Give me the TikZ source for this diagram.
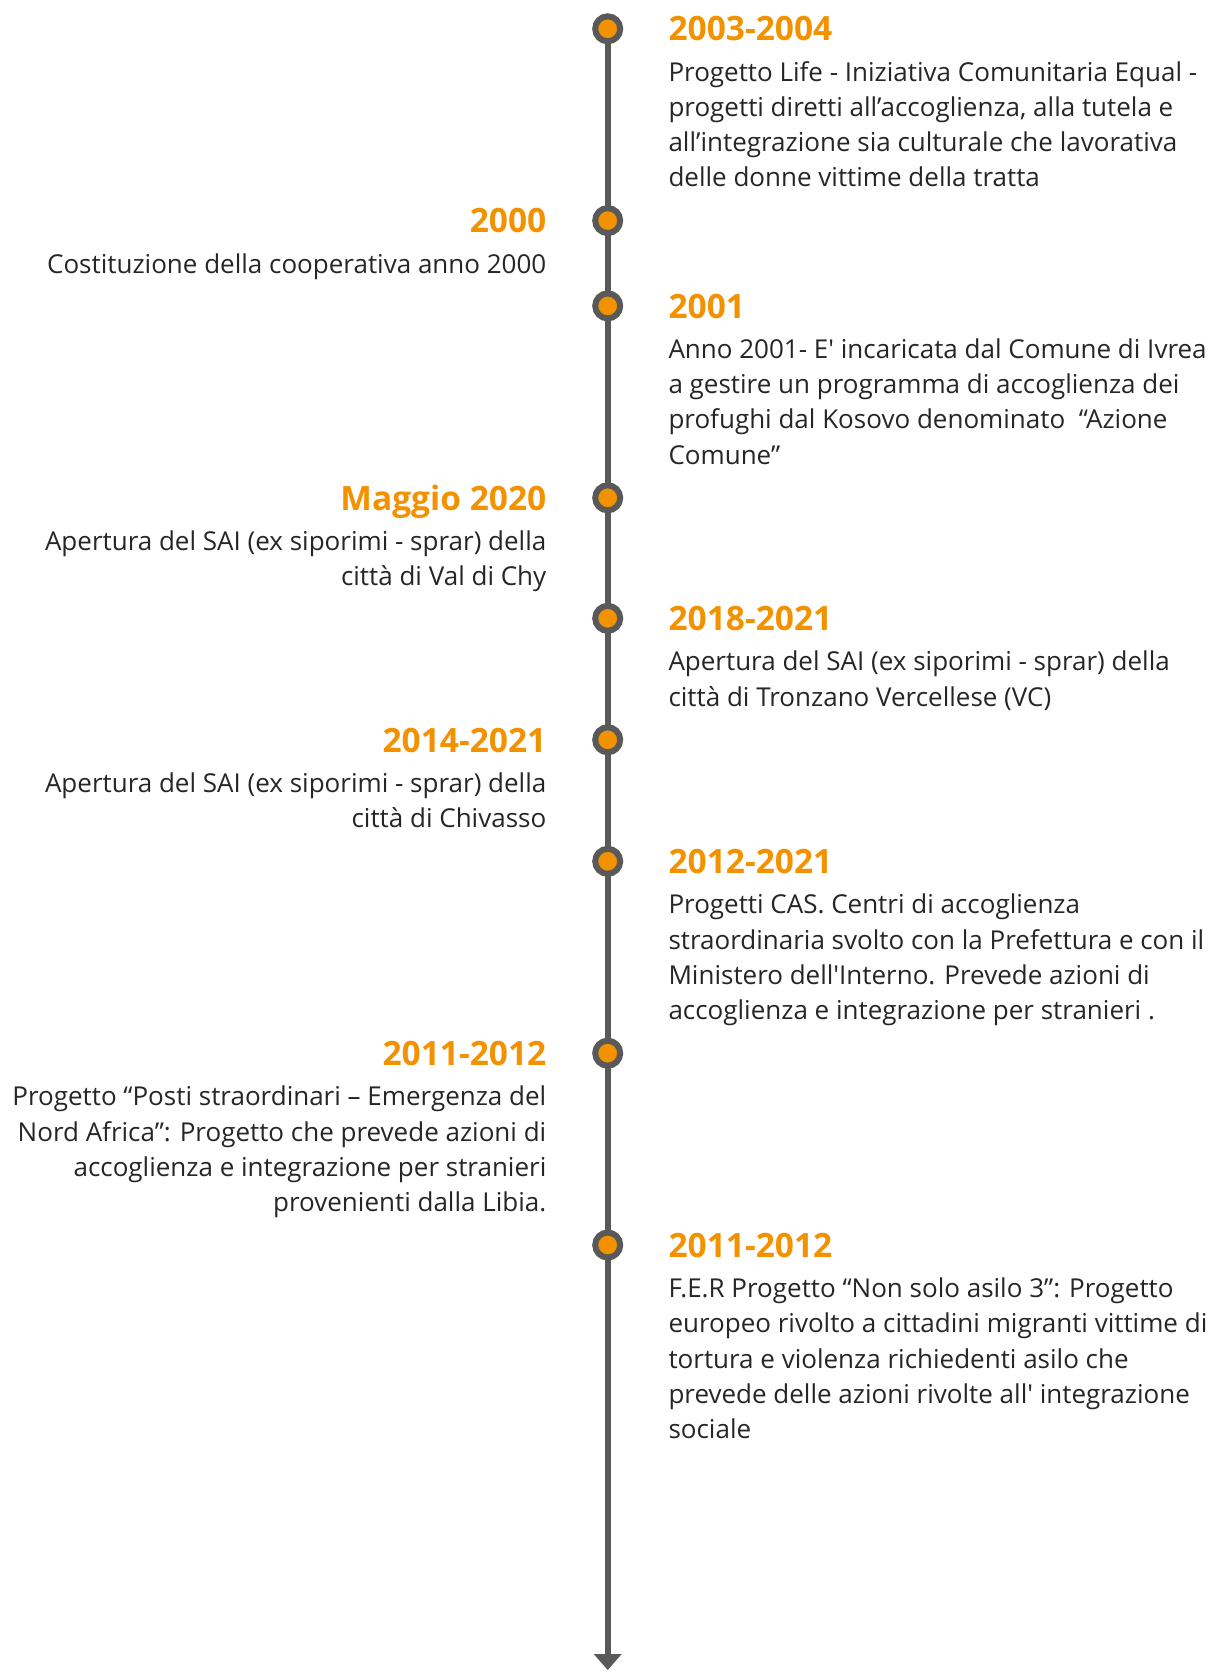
\documentclass[tikz,border=0pt]{standalone}
\usepackage{fontspec}
\setmainfont{Open Sans}[Ligatures=TeXOff]
\usetikzlibrary{arrows.meta,backgrounds}
\definecolor{tlorange}{HTML}{F39200}
\definecolor{tlgray}{HTML}{595959}
\definecolor{tltext}{HTML}{262626}
\newcommand{\tlL}[1]{\begin{tabular}[t]{@{}l@{}}#1\end{tabular}}
\newcommand{\tlR}[1]{\begin{tabular}[t]{@{}r@{}}#1\end{tabular}}
\begin{document}
\begin{tikzpicture}[x=1pt,y=-1pt,
  dot/.style={circle,draw=tlgray,fill=tlorange,line width=6pt,minimum size=25pt,inner sep=0pt},
  head/.style={inner sep=0pt,text=tlorange,font=\fontsize{33.5}{40}\selectfont\bfseries},
  headr/.style={head,anchor=base west},
  headl/.style={head,anchor=base east},
  body/.style={inner sep=0pt,text=tltext,font=\fontsize{26}{35.2}\selectfont},
  bodyr/.style={body,anchor=base west},
  bodyl/.style={body,anchor=base east}]
\useasboundingbox (0,0) rectangle (1212,1672);
\def\xl{607.7}\def\xr{668.3}\def\xL{546.5}
\def\hoff{12.2}\def\boff{52.6}
% dots
\node[dot] (d1) at (\xl,28.8) {};
\node[dot] (d2) at (\xl,220.6) {};
\node[dot] (d3) at (\xl,305.9) {};
\node[dot] (d4) at (\xl,497.8) {};
\node[dot] (d5) at (\xl,618.3) {};
\node[dot] (d6) at (\xl,739.8) {};
\node[dot] (d7) at (\xl,861.3) {};
\node[dot] (d8) at (\xl,1053.2) {};
\node[dot] (d9) at (\xl,1245.0) {};
\coordinate (tip) at (\xl,1670);
\begin{scope}[on background layer]
\draw[tlgray,line width=5.7pt,-{Triangle[width=27pt,length=16pt]}] (d1.center) -- (tip);
\end{scope}
% entries
\node[headr] (h1) at (\xr,28.8+\hoff) {2003-2004};
\node[bodyr] (b1) at (\xr,28.8+\boff) {\tlL{Progetto Life - Iniziativa Comunitaria Equal -\\progetti diretti all’accoglienza, alla tutela e\\all’integrazione sia culturale che lavorativa\\delle donne vittime della tratta}};
\node[headl] (h2) at (\xL,220.6+\hoff) {2000};
\node[bodyl] (b2) at (\xL,220.6+\boff) {\tlR{Costituzione della cooperativa anno 2000}};
\node[headr] (h3) at (\xr,305.9+\hoff) {2001};
\node[bodyr] (b3) at (\xr,305.9+\boff) {\tlL{Anno 2001- E' incaricata dal Comune di Ivrea\\a gestire un programma di accoglienza dei\\profughi dal Kosovo denominato \ “Azione\\Comune”}};
\node[headl] (h4) at (\xL,497.8+\hoff) {Maggio 2020};
\node[bodyl] (b4) at (\xL,497.8+\boff) {\tlR{Apertura del SAI (ex siporimi - sprar) della\\città di Val di Chy}};
\node[headr] (h5) at (\xr,618.3+\hoff) {2018-2021};
\node[bodyr] (b5) at (\xr,618.3+\boff) {\tlL{Apertura del SAI (ex siporimi - sprar) della\\città di Tronzano Vercellese (VC)}};
\node[headl] (h6) at (\xL,739.8+\hoff) {2014-2021};
\node[bodyl] (b6) at (\xL,739.8+\boff) {\tlR{Apertura del SAI (ex siporimi - sprar) della\\città di Chivasso}};
\node[headr] (h7) at (\xr,861.3+\hoff) {2012-2021};
\node[bodyr] (b7) at (\xr,861.3+\boff) {\tlL{Progetti CAS. Centri di accoglienza\\straordinaria svolto con la Prefettura e con il\\Ministero dell'Interno. Prevede azioni di\\accoglienza e integrazione per stranieri .}};
\node[headl] (h8) at (\xL,1053.2+\hoff) {2011-2012};
\node[bodyl] (b8) at (\xL,1053.2+\boff) {\tlR{Progetto “Posti straordinari – Emergenza del\\Nord Africa”: Progetto che prevede azioni di\\accoglienza e integrazione per stranieri\\provenienti dalla Libia.}};
\node[headr] (h9) at (\xr,1245.0+\hoff) {2011-2012};
\node[bodyr] (b9) at (\xr,1245.0+\boff) {\tlL{F.E.R Progetto “Non solo asilo 3”: Progetto\\europeo rivolto a cittadini migranti vittime di\\tortura e violenza richiedenti asilo che\\prevede delle azioni rivolte all' integrazione\\sociale}};
\end{tikzpicture}
\end{document}
